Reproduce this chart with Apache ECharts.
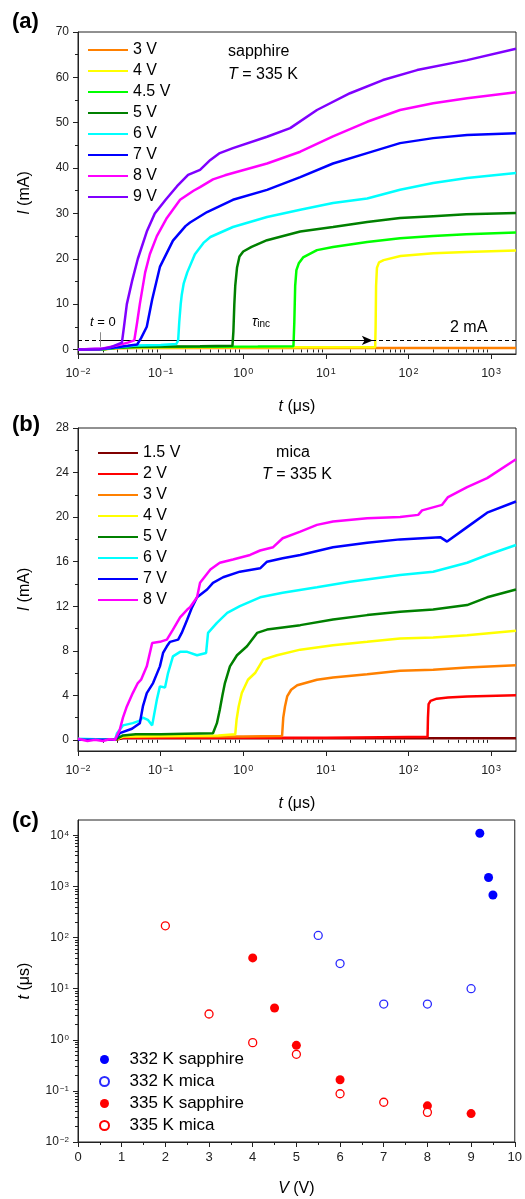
<!DOCTYPE html>
<html>
<head>
<meta charset="utf-8">
<script src="https://cdn.jsdelivr.net/npm/echarts@6/dist/echarts.min.js"></script>
<style>
  html, body { margin: 0; padding: 0; background: #fff; }
  #chart { width: 525px; height: 1199px; }
</style>
</head>
<body>
<div id="chart"></div>
<script>
const FONT = '"Liberation Sans", Arial, sans-serif'

// ---- tick positions ----
const decadesT = [0.01, 0.1, 1, 10, 100, 1000]
const decadesTau = [0.01, 0.1, 1, 10, 100, 1000, 10000]
const mantissas = [2, 3, 4, 5, 6, 7, 8, 9]
const minorLog = (decades, max) => {
  const out = []
  decades.forEach((d) => mantissas.forEach((m) => { if (d * m < max) out.push(+(d * m).toPrecision(3)) }))
  return out
}
const ticksIa = [0, 10, 20, 30, 40, 50, 60, 70]
const minorIa = [5, 15, 25, 35, 45, 55, 65]
const ticksIb = [0, 4, 8, 12, 16, 20, 24, 28]
const minorIb = [2, 6, 10, 14, 18, 22, 26]

// ---- (a) sapphire, T = 335 K : [t (us), I (mA)] ----
const namesA = ['3 V', '4 V', '4.5 V', '5 V', '6 V', '7 V', '8 V', '9 V']
const colorsA = ['#ff8000', '#ffff00', '#00ff00', '#008000', '#00ffff', '#0000ff', '#ff00ff', '#8000ff']
const a3V = [[0.01, 0], [0.02, 0.05], [0.03, 0.25], [0.05, 0.3], [0.1, 0.3], [1, 0.35], [10, 0.35], [100, 0.35], [2000, 0.35]]
const a4V = [[0.01, 0], [0.02, 0.05], [0.03, 0.3], [0.05, 0.45], [0.5, 0.5], [5, 0.5], [39.5, 0.5], [40, 5], [40.5, 14], [41.5, 18], [44, 19.2], [50, 19.7], [80, 20.6], [200, 21.2], [500, 21.5], [2000, 21.8]]
const a45V = [[0.01, 0], [0.02, 0.05], [0.03, 0.4], [0.05, 0.55], [0.3, 0.6], [1.5, 0.65], [4.05, 0.7], [4.15, 6], [4.25, 14], [4.4, 17.5], [4.7, 19], [5.3, 20.3], [7.8, 21.9], [12.2, 22.6], [31.6, 23.7], [79, 24.5], [199, 25], [500, 25.4], [2000, 25.8]]
const a5V = [[0.01, 0], [0.02, 0.05], [0.03, 0.45], [0.06, 0.6], [0.3, 0.7], [0.74, 0.8], [0.76, 4], [0.78, 10], [0.8, 14], [0.84, 18], [0.9, 20.5], [1.0, 21.6], [1.26, 22.6], [1.94, 24.1], [4.9, 26], [12.2, 27], [31.6, 28.1], [79, 29], [199, 29.4], [500, 29.8], [2000, 30.1]]
const a6V = [[0.01, 0], [0.02, 0.1], [0.035, 0.6], [0.05, 0.9], [0.1, 1.0], [0.155, 1.2], [0.163, 2], [0.168, 6], [0.175, 10], [0.18, 12], [0.19, 14.5], [0.21, 17], [0.26, 21], [0.33, 23.5], [0.4, 24.8], [0.75, 27], [1.94, 29.2], [4.9, 30.8], [12.2, 32.3], [31.6, 33.3], [79, 35.2], [199, 36.7], [512, 37.8], [2000, 38.9]]
const a7V = [[0.01, 0], [0.02, 0.15], [0.03, 0.5], [0.04, 0.8], [0.052, 1.1], [0.058, 2.5], [0.068, 5], [0.079, 11], [0.098, 18.2], [0.141, 24], [0.2, 27.2], [0.227, 28], [0.365, 30.3], [0.75, 33], [1.94, 35.2], [4.9, 38], [12.2, 41], [31.6, 43.3], [79, 45.5], [199, 46.6], [512, 47.3], [2000, 47.7]]
const a8V = [[0.01, 0], [0.02, 0.2], [0.03, 0.9], [0.04, 1.5], [0.048, 2], [0.052, 6], [0.056, 10], [0.065, 17], [0.074, 21], [0.09, 25], [0.119, 29], [0.172, 33], [0.25, 35], [0.3, 35.8], [0.43, 37.5], [0.6, 38.4], [0.75, 38.9], [1.94, 41], [4.9, 43.6], [12.2, 47], [31.6, 50.2], [79, 52.8], [199, 54.3], [512, 55.4], [2000, 56.7]]
const a9V = [[0.01, 0], [0.018, 0], [0.025, 0.5], [0.034, 1.5], [0.036, 5], [0.039, 10], [0.045, 15], [0.053, 20], [0.068, 26], [0.085, 30], [0.115, 33], [0.158, 36], [0.215, 38.5], [0.3, 39.6], [0.4, 41.8], [0.52, 43.3], [0.75, 44.4], [1.94, 46.9], [3.7, 48.8], [7.8, 52.8], [19.6, 56.5], [49, 59.4], [127, 61.6], [512, 63.8], [2000, 66.3]]
const dataA = [a3V, a4V, a45V, a5V, a6V, a7V, a8V, a9V]
const thresholdA = 2 // mA
const tZero = 0.0185
const tInc = 37

// ---- (b) mica, T = 335 K ----
const namesB = ['1.5 V', '2 V', '3 V', '4 V', '5 V', '6 V', '7 V', '8 V']
const colorsB = ['#800000', '#ff0000', '#ff8000', '#ffff00', '#008000', '#00ffff', '#0000ff', '#ff00ff']
const b15V = [[0.01, 0], [0.028, 0], [0.035, 0.15], [0.1, 0.15], [1, 0.15], [10, 0.15], [100, 0.15], [2000, 0.15]]
const b2V = [[0.01, 0], [0.028, 0], [0.035, 0.2], [0.1, 0.2], [1, 0.2], [10, 0.2], [100, 0.25], [170, 0.25], [172, 2], [175, 3.2], [185, 3.5], [220, 3.7], [300, 3.8], [512, 3.9], [2000, 4.0]]
const b3V = [[0.01, 0], [0.028, 0], [0.035, 0.3], [0.1, 0.3], [1, 0.3], [2.95, 0.35], [3.05, 2], [3.2, 3], [3.4, 3.9], [3.8, 4.5], [4.5, 4.9], [7.8, 5.4], [12.2, 5.6], [31.6, 5.9], [79, 6.2], [199, 6.3], [512, 6.5], [2000, 6.7]]
const b4V = [[0.01, 0], [0.028, 0], [0.035, 0.3], [0.1, 0.35], [0.5, 0.4], [0.8, 0.5], [0.83, 1.8], [0.88, 3], [0.96, 4.2], [1.14, 5.4], [1.39, 6], [1.74, 7.2], [2.56, 7.6], [4.9, 8.1], [12.2, 8.5], [31.6, 8.8], [79, 9.1], [199, 9.2], [512, 9.4], [2000, 9.8]]
const b5V = [[0.01, 0], [0.028, 0], [0.035, 0.4], [0.05, 0.5], [0.1, 0.5], [0.2, 0.55], [0.43, 0.6], [0.48, 1.5], [0.52, 2.7], [0.56, 4], [0.6, 5.1], [0.69, 6.6], [0.84, 7.6], [1.11, 8.4], [1.47, 9.6], [1.94, 9.9], [4.9, 10.3], [12.2, 10.8], [31.6, 11.2], [79, 11.5], [199, 11.7], [512, 12.1], [895, 12.8], [2000, 13.5]]
const b6V = [[0.01, 0.1], [0.028, 0], [0.0297, 0.6], [0.035, 1.3], [0.046, 1.5], [0.055, 1.7], [0.061, 2], [0.07, 1.8], [0.079, 1.3], [0.09, 3.6], [0.098, 4.8], [0.113, 4.7], [0.123, 6], [0.141, 7.5], [0.172, 7.9], [0.21, 7.9], [0.276, 7.6], [0.355, 7.8], [0.375, 9.6], [0.48, 10.5], [0.64, 11.4], [0.91, 12], [1.6, 12.8], [3.0, 13.2], [7.8, 13.7], [19.6, 14.2], [79, 14.8], [199, 15.1], [512, 15.9], [895, 16.6], [2000, 17.5]]
const b7V = [[0.01, 0], [0.028, 0], [0.032, 0.6], [0.045, 1], [0.056, 1.5], [0.061, 3], [0.068, 4.2], [0.081, 5.1], [0.098, 6.6], [0.107, 7.8], [0.119, 8.4], [0.13, 8.8], [0.163, 9], [0.18, 9.6], [0.21, 10.8], [0.24, 11.9], [0.276, 12.8], [0.365, 13.5], [0.43, 14.1], [0.57, 14.6], [0.91, 15.1], [1.6, 15.4], [1.94, 16], [3.0, 16.3], [4.9, 16.6], [12.2, 17.3], [31.6, 17.7], [79, 18], [242, 18.2], [293, 17.8], [512, 19.1], [895, 20.4], [2000, 21.4]]
const b8V = [[0.01, 0.1], [0.013, -0.1], [0.016, 0], [0.02, -0.1], [0.024, 0.05], [0.028, 0], [0.032, 0.9], [0.035, 2], [0.039, 3], [0.046, 4.2], [0.053, 5.1], [0.058, 5.4], [0.068, 6.6], [0.079, 8.7], [0.098, 8.8], [0.119, 9], [0.141, 9.9], [0.172, 11], [0.21, 11.7], [0.227, 11.9], [0.276, 12.8], [0.3, 14.1], [0.4, 15.3], [0.52, 15.9], [0.75, 16.2], [1.21, 16.6], [1.6, 17], [2.3, 17.3], [3.0, 18.1], [4.9, 18.7], [7.8, 19.3], [12.2, 19.6], [31.6, 19.9], [79, 20], [131, 20.2], [146, 20.6], [255, 21.1], [301, 21.8], [512, 22.7], [895, 23.5], [2000, 25.2]]
const dataB = [b15V, b2V, b3V, b4V, b5V, b6V, b7V, b8V]

// ---- (c) incubation time vs voltage : [V, t (us)] ----
const namesC = ['332 K sapphire', '332 K mica', '335 K sapphire', '335 K mica']
const sapphire332 = [[9.2, 11000], [9.4, 1500], [9.5, 680]]
const mica332 = [[5.5, 110], [6, 31], [7, 5], [8, 5], [9, 10]]
const sapphire335 = [[4, 40], [4.5, 4.2], [5, 0.78], [6, 0.165], [8, 0.051], [9, 0.036]]
const mica335 = [[2, 170], [3, 3.2], [4, 0.88], [5, 0.52], [6, 0.088], [7, 0.06], [8, 0.038]]

const chart = echarts.init(document.getElementById('chart'), null, { renderer: 'canvas' })

const axisColor = '#222'
const supLabel = (v) => {
  const e = Math.round(Math.log10(v))
  return '{b|10}{s|' + (e < 0 ? '\u2212' + (-e) : e) + '}'
}
const supRich = (base, sup) => ({
  b: { fontFamily: FONT, fontSize: base, color: axisColor, verticalAlign: 'bottom' },
  s: { fontFamily: FONT, fontSize: sup, color: axisColor, verticalAlign: 'top', padding: [0, 0, 0, 1] },
})
const nameStyle = {
  fontFamily: FONT, fontSize: 16, color: '#000',
  rich: { i: { fontFamily: FONT, fontSize: 16, fontStyle: 'italic', color: '#000' } },
}

const majorAxis = (o) => ({
  splitLine: { show: false },
  axisLine: { show: true, onZero: false, lineStyle: { color: axisColor, width: 1 } },
  ...o,
})
const minorAxis = (o) => ({
  splitLine: { show: false },
  axisLine: { show: false },
  axisLabel: { show: false },
  ...o,
})

const tAxes = (grid) => [
  majorAxis({
    type: 'log', gridIndex: grid, min: 0.01, max: 2000, position: 'bottom',
    name: '{i|t} (\u03bcs)', nameLocation: 'middle', nameGap: 45, nameTextStyle: nameStyle,
    axisTick: { length: 5, customValues: decadesT, lineStyle: { color: axisColor } },
    axisLabel: { customValues: decadesT, formatter: supLabel, margin: 13, rich: supRich(12.5, 9) },
  }),
  minorAxis({
    type: 'log', gridIndex: grid, min: 0.01, max: 2000, position: 'bottom',
    axisTick: { length: 3, customValues: minorLog(decadesT, 2000), lineStyle: { color: axisColor } },
  }),
]
const iAxes = (grid, max, ticks, minor) => [
  majorAxis({
    type: 'value', gridIndex: grid, min: -1, max: max, position: 'left',
    name: '{i|I} (mA)', nameLocation: 'middle', nameGap: 45, nameTextStyle: nameStyle,
    axisTick: { length: 5, customValues: ticks, lineStyle: { color: axisColor } },
    axisLabel: { customValues: ticks, margin: 9, color: axisColor, fontFamily: FONT, fontSize: 12 },
  }),
  minorAxis({
    type: 'value', gridIndex: grid, min: -1, max: max, position: 'left',
    axisTick: { length: 3, customValues: minor, lineStyle: { color: axisColor } },
  }),
]

const seriesA = dataA.map((d, i) => ({
  name: namesA[i], type: 'line', xAxisIndex: 0, yAxisIndex: 0, data: d,
  symbol: 'none', lineStyle: { width: 2.5, color: colorsA[i] }, itemStyle: { color: colorsA[i] },
  z: 2 + i,
}))
seriesA[0].markLine = {
  silent: true, animation: false, symbol: 'none', label: { show: false },
  data: [
    { yAxis: thresholdA, lineStyle: { type: [4, 3], color: '#000', width: 1 } },
    [{ coord: [tZero, thresholdA], symbol: 'none', lineStyle: { type: 'solid', color: '#000', width: 1 } },
     { coord: [tInc, thresholdA], symbol: 'arrow', symbolSize: [7, 11] }],
    [{ coord: [tZero, 0.6], lineStyle: { type: 'solid', color: '#888', width: 1 } }, { coord: [tZero, 3.8] }],
  ],
}
const seriesB = dataB.map((d, i) => ({
  name: namesB[i], type: 'line', xAxisIndex: 2, yAxisIndex: 2, data: d,
  symbol: 'none', lineStyle: { width: 2.5, color: colorsB[i] }, itemStyle: { color: colorsB[i] },
  z: 2 + i,
}))
const scatter = (name, data, color, open) => ({
  name, type: 'scatter', xAxisIndex: 4, yAxisIndex: 4, data,
  symbol: 'circle', symbolSize: open ? 8 : 9,
  itemStyle: open
    ? { color: '#fff', borderColor: color, borderWidth: 1.3, opacity: 1 }
    : { color: color, borderWidth: 0, opacity: 1 },
})
const seriesC = [
  scatter(namesC[0], sapphire332, '#0000ff', false),
  scatter(namesC[1], mica332, '#2a2aff', true),
  scatter(namesC[2], sapphire335, '#ff0000', false),
  scatter(namesC[3], mica335, '#ff0000', true),
]

const legendBase = {
  orient: 'vertical', selectedMode: false, padding: 0,
  textStyle: { fontFamily: FONT, fontSize: 16, color: '#000' },
}
const txt = (text, x, y, size, extra) => ({
  type: 'text', x, y, silent: true,
  style: Object.assign({
    text, fontFamily: FONT, fontSize: size, fill: '#000', verticalAlign: 'middle',
    rich: {
      i: { fontFamily: FONT, fontSize: size, fontStyle: 'italic', fill: '#000' },
      sub: { fontFamily: FONT, fontSize: 10, fill: '#000', verticalAlign: 'bottom' },
    },
  }, extra || {}),
})

const option = {
  backgroundColor: '#fff',
  animation: false,
  grid: [
    { left: 78, right: 9, top: 32, height: 322, show: true, borderColor: axisColor, borderWidth: 1 },
    { left: 78, right: 9, top: 428, height: 323, show: true, borderColor: axisColor, borderWidth: 1 },
    { left: 78, right: 9, top: 820, height: 322, show: true, borderColor: axisColor, borderWidth: 1 },
  ],
  xAxis: [
    ...tAxes(0),
    ...tAxes(1),
    majorAxis({
      type: 'value', gridIndex: 2, min: 0, max: 10, interval: 1, position: 'bottom',
      name: '{i|V} (V)', nameLocation: 'middle', nameGap: 39, nameTextStyle: nameStyle,
      axisTick: { length: 5, lineStyle: { color: axisColor } },
      minorTick: { show: true, splitNumber: 2, length: 3, lineStyle: { color: axisColor } },
      axisLabel: { margin: 9, color: axisColor, fontFamily: FONT, fontSize: 13 },
    }),
    minorAxis({ type: 'value', gridIndex: 2, min: 0, max: 10, show: false }),
  ],
  yAxis: [
    ...iAxes(0, 70, ticksIa, minorIa),
    ...iAxes(1, 28, ticksIb, minorIb),
    majorAxis({
      type: 'log', gridIndex: 2, min: 0.01, max: 20000, position: 'left',
      name: '{i|t} (\u03bcs)', nameLocation: 'middle', nameGap: 45, nameTextStyle: nameStyle,
      axisTick: { length: 5, customValues: decadesTau, lineStyle: { color: axisColor } },
      axisLabel: { customValues: decadesTau, formatter: supLabel, margin: 9, rich: supRich(12, 8) },
    }),
    minorAxis({
      type: 'log', gridIndex: 2, min: 0.01, max: 20000, position: 'left',
      axisTick: { length: 3, customValues: minorLog(decadesTau, 20000), lineStyle: { color: axisColor } },
    }),
  ],
  legend: [
    { ...legendBase, data: namesA, left: 88, top: 42, itemWidth: 40, itemHeight: 2, itemGap: 5, icon: 'rect' },
    { ...legendBase, data: namesB, left: 98, top: 445, itemWidth: 40, itemHeight: 2, itemGap: 5, icon: 'rect' },
    { ...legendBase, data: namesC, left: 99, top: 1051, itemWidth: 40, itemHeight: 9, itemGap: 5, icon: 'circle',
      textStyle: { fontFamily: FONT, fontSize: 17, color: '#000' } },
  ],
  series: [...seriesA, ...seriesB, ...seriesC],
  graphic: [
    txt('(a)', 12, 22, 22, { fontWeight: 'bold' }),
    txt('(b)', 12, 425, 22, { fontWeight: 'bold' }),
    txt('(c)', 12, 821, 22, { fontWeight: 'bold' }),
    txt('sapphire', 228, 52, 16),
    txt('{i|T} = 335 K', 228, 75, 16),
    txt('mica', 293, 453, 16, { align: 'center' }),
    txt('{i|T} = 335 K', 297, 475, 16, { align: 'center' }),
    txt('{i|t} = 0', 90, 322, 13),
    txt('{i|\u03c4}{sub|inc}', 252, 322, 14),
    txt('2 mA', 450, 328, 16),
  ],
}
chart.setOption(option)
</script>
</body>
</html>
